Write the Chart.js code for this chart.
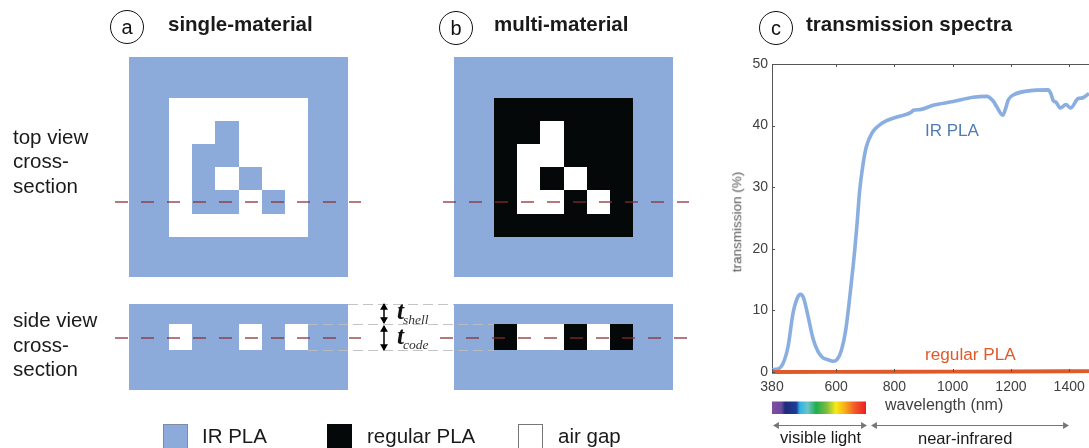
<!DOCTYPE html>
<html>
<head>
<meta charset="utf-8">
<script src="https://cdn.jsdelivr.net/npm/chart.js@4"></script>
<style>
  html, body { margin: 0; background: #fff; overflow: hidden; }
  #wrap { position: relative; width: 1089px; height: 448px; font-family: "Liberation Sans", Arial, sans-serif; }
  canvas { position: absolute; left: 0; top: 0; }
  .t { position: absolute; white-space: nowrap; line-height: 1; color: #1a1a1a; }
  .h { font-size: 20.5px; font-weight: bold; top: 14px; }
  .p { font-size: 20.5px; left: 13px; }
  .lg { font-size: 20.5px; top: 426px; }
  .ax { color: #404040; }
  .sym { font-family: "Liberation Serif", serif; font-style: italic; color: #333; }
  .round { position: absolute; box-sizing: border-box; width: 34px; height: 34px; top: 10px; border: 1px solid #111; border-radius: 50%; text-align: center; line-height: 32px; font-size: 20px; color: #111; }
</style>
</head>
<body>
<div id="wrap">
  <canvas id="chart" width="1089" height="448"></canvas>

  <div class="round" style="left:110px">a</div>
  <div class="t h" style="left:168px">single-material</div>
  <div class="round" style="left:439px;top:11px">b</div>
  <div class="t h" style="left:494px">multi-material</div>
  <div class="round" style="left:759px;top:11px">c</div>
  <div class="t h" style="left:806px">transmission spectra</div>

  <div class="t p" style="top:127px">top view</div>
  <div class="t p" style="top:151px">cross-</div>
  <div class="t p" style="top:176px">section</div>
  <div class="t p" style="top:310px">side view</div>
  <div class="t p" style="top:335px">cross-</div>
  <div class="t p" style="top:359px">section</div>

  <div class="t sym" style="left:397px;top:298px;font-size:25px;font-weight:bold;color:#111">t</div>
  <div class="t sym" style="left:403px;top:313px;font-size:13.5px">shell</div>
  <div class="t sym" style="left:397px;top:323px;font-size:25px;font-weight:bold;color:#111">t</div>
  <div class="t sym" style="left:403px;top:338px;font-size:13.5px">code</div>

  <div class="t lg" style="left:202px">IR PLA</div>
  <div class="t lg" style="left:367px">regular PLA</div>
  <div class="t lg" style="left:558px">air gap</div>

  <div class="t" style="left:925px;top:122px;font-size:17px;color:#4f7cb5">IR PLA</div>
  <div class="t" style="left:925px;top:346px;font-size:17.2px;color:#e0592a">regular PLA</div>
  <div class="t ax" style="left:885px;top:397px;font-size:16px">wavelength (nm)</div>
  <div class="t ax" style="left:737px;top:222px;font-size:13.5px;color:#555;transform:translate(-50%,-50%) rotate(-90deg);transform-origin:center">transmission (%)</div>
  <div class="t" style="left:780px;top:430px;font-size:16.6px">visible light</div>
  <div class="t" style="left:918px;top:430px;font-size:16.5px">near-infrared</div>
</div>

<script>
const irWavelength = [380, 401, 418, 435, 452, 466, 478, 489, 504, 521, 538, 555, 572, 590, 603, 618, 633, 647, 658, 664, 672, 681, 693, 704, 722, 744, 773, 808, 859, 865, 888, 933, 1002, 1070, 1117, 1139, 1151, 1172, 1180, 1191, 1214, 1254, 1328, 1337, 1346, 1355, 1369, 1389, 1405, 1431, 1446, 1468];
const irValues = [0.4, 0.5, 1.4, 4.1, 9.5, 11.9, 12.6, 11.9, 9.0, 5.4, 3.3, 2.3, 2.0, 1.75, 2.0, 3.5, 6.8, 12.2, 17.0, 19.8, 24.1, 29.5, 33.9, 36.6, 38.7, 39.9, 40.8, 41.4, 42.2, 42.5, 42.6, 43.3, 43.9, 44.6, 44.75, 44.0, 43.1, 41.7, 42.5, 44.2, 45.1, 45.6, 45.8, 45.2, 44.0, 43.8, 42.85, 43.4, 42.85, 44.4, 44.5, 45.2];
const regularWavelength = [380, 600, 800, 1000, 1200, 1400, 1468];
const regularValues = [0, 0.02, 0.04, 0.06, 0.08, 0.12, 0.15];
const xTicks = [380, 600, 800, 1000, 1200, 1400];
const yTicks = [0, 10, 20, 30, 40, 50];

// 1 = printed cell, 0 = empty cell of the 6x6 code
const codeCells = [
  [0, 0, 0, 0, 0, 0],
  [0, 0, 1, 0, 0, 0],
  [0, 1, 1, 0, 0, 0],
  [0, 1, 0, 1, 0, 0],
  [0, 1, 1, 0, 1, 0],
  [0, 0, 0, 0, 0, 0],
];
const sideRow = 4; // row the red section line goes through
const spectrumColors = ['#7d4fa0', '#6a4a9e', '#1f2a7a', '#1c3f95', '#2bb3e5', '#6cc4c8', '#1fae4b', '#7dbb42', '#f7ec13', '#f7a21b', '#f15a29', '#ed1c24'];
const spectrumStops = [0, 0.1, 0.14, 0.26, 0.295, 0.38, 0.47, 0.58, 0.68, 0.79, 0.88, 1];

const BLUE = '#8cabdb';
const BLACK = '#050808';
const AXIS = '#555555';

function rect(ctx, x, y, w, h, color) {
  ctx.fillStyle = color;
  ctx.fillRect(x, y, w, h);
}

function dashed(ctx, x0, x1, y, color, dash, width) {
  ctx.save();
  ctx.strokeStyle = color;
  ctx.lineWidth = width;
  ctx.setLineDash(dash);
  ctx.beginPath();
  ctx.moveTo(x0, y);
  ctx.lineTo(x1, y);
  ctx.stroke();
  ctx.restore();
}

function arrow(ctx, x0, y0, x1, y1, color, width, size) {
  const a = Math.atan2(y1 - y0, x1 - x0);
  ctx.save();
  ctx.strokeStyle = color;
  ctx.fillStyle = color;
  ctx.lineWidth = width;
  ctx.beginPath();
  ctx.moveTo(x0, y0);
  ctx.lineTo(x1, y1);
  ctx.stroke();
  [[x1, y1, a], [x0, y0, a + Math.PI]].forEach(([x, y, d]) => {
    ctx.beginPath();
    ctx.moveTo(x + Math.cos(d), y + Math.sin(d));
    ctx.lineTo(x - Math.cos(d - 0.6) * size, y - Math.sin(d - 0.6) * size);
    ctx.lineTo(x - Math.cos(d + 0.6) * size, y - Math.sin(d + 0.6) * size);
    ctx.closePath();
    ctx.fill();
  });
  ctx.restore();
}

function drawPanel(ctx, left, winColor, cellColor) {
  const size = 23.2;
  const wx = left + 40;
  const colX = c => Math.round(wx + c * size);
  const rowY = r => Math.round(97.5 + r * size);
  // top view
  rect(ctx, left, 57, 219, 220, BLUE);
  rect(ctx, colX(0), rowY(0), colX(6) - colX(0), rowY(6) - rowY(0), winColor);
  codeCells.forEach((row, r) => row.forEach((on, c) => {
    if (on) rect(ctx, colX(c), rowY(r), colX(c + 1) - colX(c), rowY(r + 1) - rowY(r), cellColor);
  }));
  // side view
  rect(ctx, left, 304, 219, 86, BLUE);
  codeCells[sideRow].forEach((on, c) => {
    rect(ctx, colX(c), 324, colX(c + 1) - colX(c), 26, on ? cellColor : winColor);
  });
}

const schematic = {
  id: 'schematic',
  beforeDraw(chart) {
    const ctx = chart.ctx;
    drawPanel(ctx, 129, '#ffffff', BLUE);
    drawPanel(ctx, 454, BLACK, '#ffffff');

    // guides between the two side views
    const guide = '#bdbdbd';
    dashed(ctx, 348, 454, 304.5, guide, [10, 5], 0.9);
    dashed(ctx, 308, 494, 324.5, guide, [10, 5], 0.9);
    dashed(ctx, 308, 494, 350.5, guide, [10, 5], 0.9);

    // section lines
    const red = 'rgba(135, 45, 50, 0.9)';
    dashed(ctx, 115, 361, 202, red, [13, 13], 1.4);
    dashed(ctx, 443, 689, 202, red, [13, 13], 1.4);
    dashed(ctx, 115, 361, 338, red, [13, 13], 1.4);
    dashed(ctx, 440, 688, 338, red, [13, 13], 1.4);

    arrow(ctx, 384, 304, 384, 323, '#000', 1.5, 7);
    arrow(ctx, 384, 326, 384, 350, '#000', 1.5, 7);

    // legend swatches
    rect(ctx, 163, 424, 25, 24, BLUE);
    rect(ctx, 327, 424, 25, 24, BLACK);
    ctx.lineWidth = 1;
    ctx.strokeStyle = '#7f8ca3';
    ctx.strokeRect(163.5, 424.5, 24, 24);
    ctx.strokeStyle = '#777';
    ctx.strokeRect(518.5, 424.5, 24, 24);

    // visible spectrum strip
    const g = ctx.createLinearGradient(772, 0, 866, 0);
    spectrumColors.forEach((c, i) => g.addColorStop(spectrumStops[i], c));
    rect(ctx, 772, 401.5, 94, 12.5, g);
    arrow(ctx, 774, 425.5, 866, 425.5, '#777', 1, 6);
    arrow(ctx, 872, 425.5, 1068, 425.5, '#777', 1, 6);
  },
  afterDatasetsDraw(chart) {
    // tick marks point into the plot
    const ctx = chart.ctx;
    const { x, y } = chart.scales;
    const { left, top, bottom } = chart.chartArea;
    ctx.save();
    ctx.strokeStyle = AXIS;
    ctx.lineWidth = 1;
    ctx.beginPath();
    xTicks.forEach(v => {
      const px = Math.round(x.getPixelForValue(v)) + 0.5;
      ctx.moveTo(px, top);
      ctx.lineTo(px, top + 3);
      ctx.moveTo(px, bottom);
      ctx.lineTo(px, bottom - 3);
    });
    yTicks.forEach(v => {
      const py = Math.round(y.getPixelForValue(v)) + 0.5;
      ctx.moveTo(left, py);
      ctx.lineTo(left + 3, py);
    });
    ctx.stroke();
    ctx.restore();
  },
};

const tickFont = { family: '"Liberation Sans", Arial, sans-serif', size: 14 };

new Chart(document.getElementById('chart'), {
  type: 'scatter',
  data: {
    datasets: [
      {
        label: 'IR PLA',
        data: irWavelength.map((x, i) => ({ x, y: irValues[i] })),
        showLine: true,
        borderColor: '#8aaee0',
        borderWidth: 3.6,
        pointRadius: 0,
        cubicInterpolationMode: 'monotone',
        clip: false,
        order: 2,
      },
      {
        label: 'regular PLA',
        data: regularWavelength.map((x, i) => ({ x, y: regularValues[i] })),
        showLine: true,
        borderColor: '#e0592a',
        borderWidth: 3.8,
        pointRadius: 0,
        clip: false,
        order: 1,
      },
    ],
  },
  options: {
    responsive: false,
    animation: false,
    layout: { padding: 0 },
    plugins: { legend: { display: false }, tooltip: { enabled: false } },
    scales: {
      x: {
        type: 'linear',
        min: 380,
        max: 1468,
        position: 'bottom',
        afterBuildTicks: s => { s.ticks = xTicks.map(value => ({ value })); },
        afterFit: s => { s.height = 448 - 372; s.paddingRight = 0; },
        grid: { display: false, drawTicks: false },
        border: { display: true, color: AXIS },
        ticks: { color: '#404040', font: tickFont, padding: 7, maxRotation: 0, autoSkip: false, callback: v => String(v) },
      },
      x2: {
        type: 'linear',
        min: 380,
        max: 1468,
        position: 'top',
        afterFit: s => { s.height = 64; },
        grid: { display: false, drawTicks: false },
        border: { display: true, color: AXIS },
        ticks: { display: false },
      },
      y: {
        type: 'linear',
        min: 0,
        max: 50,
        position: 'left',
        afterBuildTicks: s => { s.ticks = yTicks.map(value => ({ value })); },
        afterFit: s => { s.width = 772; },
        grid: { display: false, drawTicks: false },
        border: { display: true, color: AXIS },
        ticks: { color: '#404040', font: tickFont, padding: 4 },
      },
    },
  },
  plugins: [schematic],
});
</script>
</body>
</html>
